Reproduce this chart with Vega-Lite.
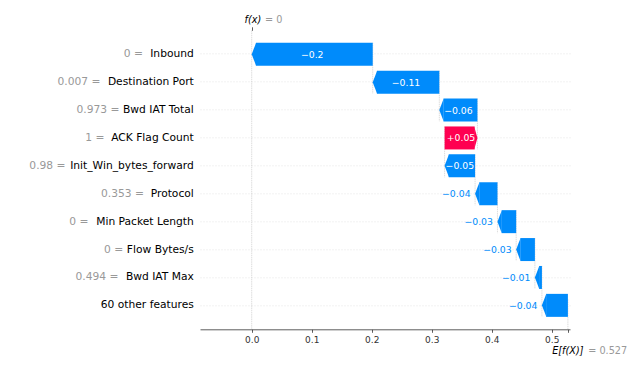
{
  "$schema": "https://vega.github.io/schema/vega-lite/v6.json",
  "autosize": {"type": "none"},
  "width": 370,
  "height": 299,
  "padding": {"left": 200, "top": 30.3, "right": 60, "bottom": 39.7},
  "config": {
    "view": {"stroke": null},
    "font": "DejaVu Sans",
    "axis": {"labelFont": "DejaVu Sans", "titleFont": "DejaVu Sans"},
    "text": {"font": "DejaVu Sans"}
  },
  "datasets": {
    "rows": [
      {"label": "0 = Inbound", "next": "0.007 = Destination Port", "shap": -0.2017, "start": 0.2017, "end": 0, "txt": "−0.2"},
      {"label": "0.007 = Destination Port", "next": "0.973 = Bwd IAT Total", "shap": -0.111, "start": 0.3127, "end": 0.2017, "txt": "−0.11"},
      {"label": "0.973 = Bwd IAT Total", "next": "1 = ACK Flag Count", "shap": -0.0635, "start": 0.3762, "end": 0.3127, "txt": "−0.06"},
      {"label": "1 = ACK Flag Count", "next": "0.98 = Init_Win_bytes_forward", "shap": 0.0547, "start": 0.3215, "end": 0.3762, "txt": "+0.05"},
      {"label": "0.98 = Init_Win_bytes_forward", "next": "0.353 = Protocol", "shap": -0.0508, "start": 0.3723, "end": 0.3215, "txt": "−0.05"},
      {"label": "0.353 = Protocol", "next": "0 = Min Packet Length", "shap": -0.0373, "start": 0.4096, "end": 0.3723, "txt": "−0.04"},
      {"label": "0 = Min Packet Length", "next": "0 = Flow Bytes/s", "shap": -0.0312, "start": 0.4408, "end": 0.4096, "txt": "−0.03"},
      {"label": "0 = Flow Bytes/s", "next": "0.494 = Bwd IAT Max", "shap": -0.0312, "start": 0.472, "end": 0.4408, "txt": "−0.03"},
      {"label": "0.494 = Bwd IAT Max", "next": "60 other features", "shap": -0.0117, "start": 0.4837, "end": 0.472, "txt": "−0.01"},
      {"label": "60 other features", "next": null, "shap": -0.0433, "start": 0.527, "end": 0.4837, "txt": "−0.04"}
    ],
    "refs": [
      {"name": "fx", "v": 0, "row": null},
      {"name": "base", "v": 0.527, "row": "60 other features"}
    ]
  },
  "layer": [
    {
      "data": {"name": "refs"},
      "transform": [{"filter": "datum.name == 'fx'"}],
      "mark": {"type": "rule", "color": "#bbbbbb", "strokeWidth": 0.5, "strokeDash": [1.5, 0.7]},
      "encoding": {
        "x": {"field": "v", "type": "quantitative", "scale": {"domain": [-0.0862, 0.5305], "nice": false, "zero": false},
          "axis": {"orient": "top", "values": [0], "labelExpr": "'f(x)'", "title": null, "grid": false, "domain": false, "tickColor": "#333333", "tickWidth": 0.8, "tickSize": 3.5, "labelColor": "#000000", "labelFontSize": 9.7, "labelFontStyle": "italic", "labelAlign": "left", "labelOffset": -7.7, "labelPadding": 4, "labelBaseline": "alphabetic", "labelOverlap": false, "labelFlush": false}}
      }
    },
    {
      "data": {"name": "refs"},
      "transform": [{"filter": "datum.name == 'base'"}],
      "mark": {"type": "rule", "color": "#bbbbbb", "strokeWidth": 0.5, "strokeDash": [1.5, 0.7], "yOffset": -6, "y2Offset": 24},
      "encoding": {
        "x": {"field": "v", "type": "quantitative", "scale": {"domain": [-0.0862, 0.5305], "nice": false, "zero": false},
          "axis": {"orient": "bottom", "values": [0.527], "labelExpr": "'E[f(X)]'", "title": null, "grid": false, "domain": false, "ticks": false, "tickSize": 0, "labelColor": "#000000", "labelFontSize": 9.7, "labelFontStyle": "italic", "labelAlign": "left", "labelOffset": -16.2, "labelPadding": 24, "labelBaseline": "alphabetic", "labelOverlap": false, "labelFlush": false}},
        "y": {"field": "row", "type": "nominal", "scale": {"type": "band", "domain": ["0 = Inbound", "0.007 = Destination Port", "0.973 = Bwd IAT Total", "1 = ACK Flag Count", "0.98 = Init_Win_bytes_forward", "0.353 = Protocol", "0 = Min Packet Length", "0 = Flow Bytes/s", "0.494 = Bwd IAT Max", "60 other features"], "paddingInner": 0.176, "paddingOuter": 0.446}, "axis": null},
        "y2": {"field": "row"}
      }
    },
    {
      "data": {"name": "rows"},
      "transform": [{"filter": "datum.next != null"}],
      "mark": {"type": "rule", "color": "#bbbbbb", "strokeWidth": 0.5, "strokeDash": [1.5, 0.7], "yOffset": -11.5, "y2Offset": 11.5},
      "encoding": {
        "x": {"field": "start", "type": "quantitative", "scale": {"domain": [-0.0862, 0.5305], "nice": false, "zero": false}, "axis": null},
        "y": {"field": "label", "type": "nominal", "scale": {"type": "band", "domain": ["0 = Inbound", "0.007 = Destination Port", "0.973 = Bwd IAT Total", "1 = ACK Flag Count", "0.98 = Init_Win_bytes_forward", "0.353 = Protocol", "0 = Min Packet Length", "0 = Flow Bytes/s", "0.494 = Bwd IAT Max", "60 other features"], "paddingInner": 0.176, "paddingOuter": 0.446},
          "axis": {"orient": "left", "title": null, "ticks": false, "tickSize": 0, "domain": false, "grid": false, "labelColor": "#000000", "labelFontSize": 10.7, "labelPadding": 6.7, "labelLimit": 400, "zindex": 1, "labelExpr": "indexof(datum.value, ' = ') < 0 ? datum.value : substring(datum.value, indexof(datum.value, ' = ') + 3)"}},
        "y2": {"field": "next"}
      }
    },
    {
      "data": {"name": "rows"},
      "transform": [{"filter": "datum.shap < 0"}],
      "mark": {"type": "bar", "color": "#008bfb", "xOffset": 4.2},
      "encoding": {
        "x": {"field": "end", "type": "quantitative", "scale": {"domain": [-0.0862, 0.5305], "nice": false, "zero": false},
          "axis": {"orient": "bottom", "values": [0, 0.1, 0.2, 0.3, 0.4, 0.5, 0.527], "labelExpr": "datum.value > 0.52 ? '' : format(datum.value, '.1f')", "title": null, "grid": false, "domainColor": "#333333", "domainWidth": 0.8, "tickColor": "#333333", "tickWidth": 0.8, "tickSize": 3, "labelColor": "#333333", "labelFontSize": 9, "labelPadding": 10.2, "labelBaseline": "alphabetic", "labelOverlap": false, "labelFlush": false, "zindex": 1}},
        "x2": {"field": "start"},
        "y": {"field": "label", "type": "nominal", "scale": {"type": "band", "domain": ["0 = Inbound", "0.007 = Destination Port", "0.973 = Bwd IAT Total", "1 = ACK Flag Count", "0.98 = Init_Win_bytes_forward", "0.353 = Protocol", "0 = Min Packet Length", "0 = Flow Bytes/s", "0.494 = Bwd IAT Max", "60 other features"], "paddingInner": 0.176, "paddingOuter": 0.446},
          "axis": {"orient": "left", "title": null, "ticks": false, "tickSize": 0, "domain": false, "grid": true, "gridColor": "#cccccc", "gridWidth": 0.5, "gridDash": [1, 2], "bandPosition": 0.5, "labelColor": "#999999", "labelFontSize": 10.7, "labelLimit": 400, "zindex": 0,
            "labelExpr": "indexof(datum.value, ' = ') < 0 ? '' : substring(datum.value, 0, indexof(datum.value, ' = ') + 2)",
            "labelPadding": {"condition": [
              {"test": "datum.value == '0 = Inbound'", "value": 57.5},
              {"test": "datum.value == '0.007 = Destination Port'", "value": 100},
              {"test": "datum.value == '0.973 = Bwd IAT Total'", "value": 81},
              {"test": "datum.value == '1 = ACK Flag Count'", "value": 96},
              {"test": "datum.value == '0.98 = Init_Win_bytes_forward'", "value": 135},
              {"test": "datum.value == '0.353 = Protocol'", "value": 56.5},
              {"test": "datum.value == '0 = Min Packet Length'", "value": 112},
              {"test": "datum.value == '0 = Flow Bytes/s'", "value": 77.3},
              {"test": "datum.value == '0.494 = Bwd IAT Max'", "value": 82}
            ], "value": 6.7}}}
      }
    },
    {
      "data": {"name": "rows"},
      "transform": [{"filter": "datum.shap > 0"}],
      "mark": {"type": "bar", "color": "#ff0051", "xOffset": -2.8},
      "encoding": {
        "x": {"field": "end", "type": "quantitative", "scale": {"domain": [-0.0862, 0.5305], "nice": false, "zero": false},
          "axis": {"orient": "top", "values": [0], "labelExpr": "'= 0'", "title": null, "grid": false, "domain": false, "ticks": false, "tickSize": 0, "labelColor": "#999999", "labelFontSize": 9.7, "labelAlign": "left", "labelOffset": 12.8, "labelPadding": 7.5, "labelBaseline": "alphabetic", "labelOverlap": false, "labelFlush": false}},
        "x2": {"field": "start"},
        "y": {"field": "label", "type": "nominal", "scale": {"type": "band", "domain": ["0 = Inbound", "0.007 = Destination Port", "0.973 = Bwd IAT Total", "1 = ACK Flag Count", "0.98 = Init_Win_bytes_forward", "0.353 = Protocol", "0 = Min Packet Length", "0 = Flow Bytes/s", "0.494 = Bwd IAT Max", "60 other features"], "paddingInner": 0.176, "paddingOuter": 0.446}, "axis": null}
      }
    },
    {
      "data": {"name": "rows"},
      "transform": [{"filter": "datum.shap < 0"}],
      "mark": {"type": "point", "shape": "M0,0L1.9,-5L1.9,5Z", "size": 21.16, "filled": true, "opacity": 1, "color": "#008bfb", "strokeWidth": 0},
      "encoding": {
        "x": {"field": "end", "type": "quantitative", "scale": {"domain": [-0.0862, 0.5305], "nice": false, "zero": false},
          "axis": {"orient": "bottom", "values": [0.527], "labelExpr": "'= 0.527'", "title": null, "grid": false, "domain": false, "ticks": false, "tickSize": 0, "labelColor": "#999999", "labelFontSize": 9.7, "labelAlign": "left", "labelOffset": 19.8, "labelPadding": 24, "labelBaseline": "alphabetic", "labelOverlap": false, "labelFlush": false}},
        "y": {"field": "label", "type": "nominal", "scale": {"type": "band", "domain": ["0 = Inbound", "0.007 = Destination Port", "0.973 = Bwd IAT Total", "1 = ACK Flag Count", "0.98 = Init_Win_bytes_forward", "0.353 = Protocol", "0 = Min Packet Length", "0 = Flow Bytes/s", "0.494 = Bwd IAT Max", "60 other features"], "paddingInner": 0.176, "paddingOuter": 0.446}, "axis": null}
      }
    },
    {
      "data": {"name": "rows"},
      "transform": [{"filter": "datum.shap > 0"}],
      "mark": {"type": "point", "shape": "M0,0L-1.4,-5L-1.4,5Z", "size": 21.16, "filled": true, "opacity": 1, "color": "#ff0051", "strokeWidth": 0},
      "encoding": {
        "x": {"field": "end", "type": "quantitative", "scale": {"domain": [-0.0862, 0.5305], "nice": false, "zero": false}, "axis": null},
        "y": {"field": "label", "type": "nominal", "scale": {"type": "band", "domain": ["0 = Inbound", "0.007 = Destination Port", "0.973 = Bwd IAT Total", "1 = ACK Flag Count", "0.98 = Init_Win_bytes_forward", "0.353 = Protocol", "0 = Min Packet Length", "0 = Flow Bytes/s", "0.494 = Bwd IAT Max", "60 other features"], "paddingInner": 0.176, "paddingOuter": 0.446}, "axis": null}
      }
    },
    {
      "data": {"name": "rows"},
      "transform": [
        {"filter": "abs(datum.shap) >= 0.045"},
        {"fold": ["start", "end"], "as": ["k", "v"]},
        {"aggregate": [{"op": "mean", "field": "v", "as": "mid"}], "groupby": ["label", "txt"]}
      ],
      "mark": {"type": "text", "color": "#ffffff", "fontSize": 9.3, "align": "center", "baseline": "middle", "dy": 0.5},
      "encoding": {
        "x": {"field": "mid", "type": "quantitative", "scale": {"domain": [-0.0862, 0.5305], "nice": false, "zero": false}, "axis": null},
        "y": {"field": "label", "type": "nominal", "scale": {"type": "band", "domain": ["0 = Inbound", "0.007 = Destination Port", "0.973 = Bwd IAT Total", "1 = ACK Flag Count", "0.98 = Init_Win_bytes_forward", "0.353 = Protocol", "0 = Min Packet Length", "0 = Flow Bytes/s", "0.494 = Bwd IAT Max", "60 other features"], "paddingInner": 0.176, "paddingOuter": 0.446}, "axis": null},
        "text": {"field": "txt"}
      }
    },
    {
      "data": {"name": "rows"},
      "transform": [{"filter": "abs(datum.shap) < 0.045"}],
      "mark": {"type": "text", "color": "#008bfb", "fontSize": 9.3, "align": "right", "baseline": "middle", "dx": -4.5, "dy": 0.5},
      "encoding": {
        "x": {"field": "end", "type": "quantitative", "scale": {"domain": [-0.0862, 0.5305], "nice": false, "zero": false}, "axis": null},
        "y": {"field": "label", "type": "nominal", "scale": {"type": "band", "domain": ["0 = Inbound", "0.007 = Destination Port", "0.973 = Bwd IAT Total", "1 = ACK Flag Count", "0.98 = Init_Win_bytes_forward", "0.353 = Protocol", "0 = Min Packet Length", "0 = Flow Bytes/s", "0.494 = Bwd IAT Max", "60 other features"], "paddingInner": 0.176, "paddingOuter": 0.446}, "axis": null},
        "text": {"field": "txt"}
      }
    }
  ],
  "resolve": {"axis": {"x": "independent", "y": "independent"}}
}
